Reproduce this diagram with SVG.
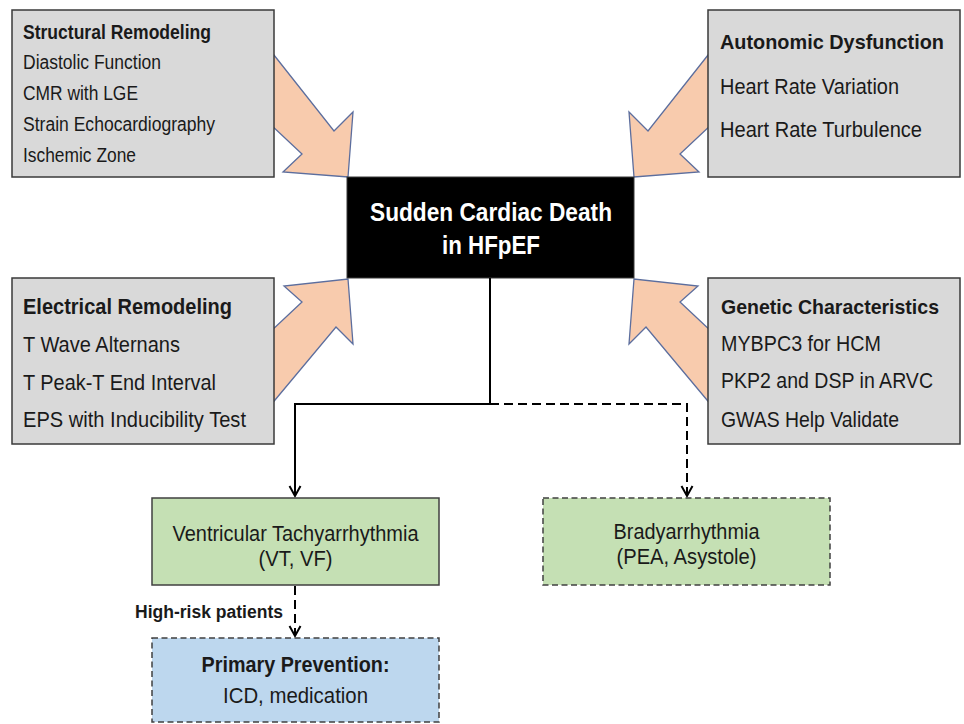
<svg xmlns="http://www.w3.org/2000/svg" width="964" height="724" viewBox="0 0 964 724">
<defs>
<style>
.gbox{fill:#D9D9D9;stroke:#3A3A3A;stroke-width:1.5}
.blk{fill:#000;stroke:#3A3A3A;stroke-width:1}
.grn{fill:#C5E0B4;stroke:#404040;stroke-width:1.5}
.grnd{fill:#C5E0B4;stroke:#404040;stroke-width:1.5;stroke-dasharray:6,3.5}
.blud{fill:#BDD7EE;stroke:#404040;stroke-width:1.5;stroke-dasharray:6,3.5}
.arw{fill:#F8CBAD;stroke:#5C6E9E;stroke-width:1.3;stroke-linejoin:miter}
text{font-family:"Liberation Sans",Arial,sans-serif;fill:#1A1A1A}
.b{font-weight:bold}
.wt{fill:#FFFFFF;font-weight:bold;font-size:25px}
.c{text-anchor:middle}
.ln{fill:none;stroke:#000;stroke-width:2}
.dl{fill:none;stroke:#000;stroke-width:2;stroke-dasharray:9,5}
</style>
<marker id="ah" markerUnits="userSpaceOnUse" markerWidth="14" markerHeight="14" viewBox="0 0 14 14" refX="11" refY="7" orient="auto">
<path d="M1,1.5 L11,7 L1,12.5" fill="none" stroke="#000" stroke-width="2"/>
</marker>
</defs>
<rect width="964" height="724" fill="#FFFFFF"/>

<g id="arrows-in">
<polygon class="arw" points="270,50 334,131 353,112 348,177 283,172 302,154 270,124"/>
<polygon class="arw" points="712,50 648,131 629,112 634,177 699,172 680,154 712,124"/>
<polygon class="arw" points="270,406 336,327 353,344 348,279 284,286 302,302 270,332"/>
<polygon class="arw" points="712,406 646,327 629,344 634,279 698,286 680,302 712,332"/>
</g>

<g id="structural">
<rect class="gbox" x="12" y="10" width="262" height="167"/>
<text x="23" y="39" class="b" font-size="19.5" textLength="188" lengthAdjust="spacingAndGlyphs">Structural Remodeling</text>
<text x="23" y="69" font-size="19.5" textLength="138" lengthAdjust="spacingAndGlyphs">Diastolic Function</text>
<text x="23" y="100" font-size="19.5" textLength="115" lengthAdjust="spacingAndGlyphs">CMR with LGE</text>
<text x="23" y="131" font-size="19.5" textLength="192" lengthAdjust="spacingAndGlyphs">Strain Echocardiography</text>
<text x="23" y="162" font-size="19.5" textLength="113" lengthAdjust="spacingAndGlyphs">Ischemic Zone</text>
</g>

<g id="autonomic">
<rect class="gbox" x="708" y="10" width="252" height="167"/>
<text x="720" y="49" class="b" font-size="20.5" textLength="224" lengthAdjust="spacingAndGlyphs">Autonomic Dysfunction</text>
<text x="720" y="94" font-size="22" textLength="179" lengthAdjust="spacingAndGlyphs">Heart Rate Variation</text>
<text x="720" y="137" font-size="22" textLength="202" lengthAdjust="spacingAndGlyphs">Heart Rate Turbulence</text>
</g>

<g id="electrical">
<rect class="gbox" x="12" y="278" width="262" height="166"/>
<text x="23" y="314" class="b" font-size="22" textLength="209" lengthAdjust="spacingAndGlyphs">Electrical Remodeling</text>
<text x="23" y="352" font-size="22" textLength="157" lengthAdjust="spacingAndGlyphs">T Wave Alternans</text>
<text x="23" y="390" font-size="22" textLength="193" lengthAdjust="spacingAndGlyphs">T Peak-T End Interval</text>
<text x="23" y="427" font-size="22" textLength="223" lengthAdjust="spacingAndGlyphs">EPS with Inducibility Test</text>
</g>

<g id="genetic">
<rect class="gbox" x="708" y="278" width="252" height="166"/>
<text x="721" y="314" class="b" font-size="20.5" textLength="218" lengthAdjust="spacingAndGlyphs">Genetic Characteristics</text>
<text x="721" y="351" font-size="22" textLength="160" lengthAdjust="spacingAndGlyphs">MYBPC3 for HCM</text>
<text x="721" y="388" font-size="22" textLength="212" lengthAdjust="spacingAndGlyphs">PKP2 and DSP in ARVC</text>
<text x="721" y="427" font-size="22" textLength="178" lengthAdjust="spacingAndGlyphs">GWAS Help Validate</text>
</g>

<g id="scd">
<rect class="blk" x="347" y="177" width="287" height="101"/>
<text x="491" y="221" class="wt c" textLength="242" lengthAdjust="spacingAndGlyphs">Sudden Cardiac Death</text>
<text x="491" y="254" class="wt c" textLength="98" lengthAdjust="spacingAndGlyphs">in HFpEF</text>
</g>

<g id="connectors">
<path class="ln" d="M490,278 V404 H295 V496" marker-end="url(#ah)"/>
<path class="dl" d="M490,404 H687 V496" marker-end="url(#ah)"/>
<path class="dl" d="M295,586 V636" marker-end="url(#ah)"/>
<text x="283" y="618" class="b" font-size="18" text-anchor="end" textLength="148" lengthAdjust="spacingAndGlyphs">High-risk patients</text>
</g>

<g id="vt">
<rect class="grn" x="152" y="498" width="287" height="87"/>
<text x="295.5" y="541" class="c" font-size="21.5" textLength="246" lengthAdjust="spacingAndGlyphs">Ventricular Tachyarrhythmia</text>
<text x="295.5" y="566" class="c" font-size="21.5" textLength="74" lengthAdjust="spacingAndGlyphs">(VT, VF)</text>
</g>

<g id="brady">
<rect class="grnd" x="543" y="498" width="287" height="87"/>
<text x="686.5" y="539" class="c" font-size="21.5" textLength="146" lengthAdjust="spacingAndGlyphs">Bradyarrhythmia</text>
<text x="686.5" y="564" class="c" font-size="21.5" textLength="140" lengthAdjust="spacingAndGlyphs">(PEA, Asystole)</text>
</g>

<g id="prevention">
<rect class="blud" x="152" y="638" width="287" height="84"/>
<text x="295.5" y="672" class="b c" font-size="21.5" textLength="188" lengthAdjust="spacingAndGlyphs">Primary Prevention:</text>
<text x="295.5" y="703" class="c" font-size="22" textLength="145" lengthAdjust="spacingAndGlyphs">ICD, medication</text>
</g>
</svg>
